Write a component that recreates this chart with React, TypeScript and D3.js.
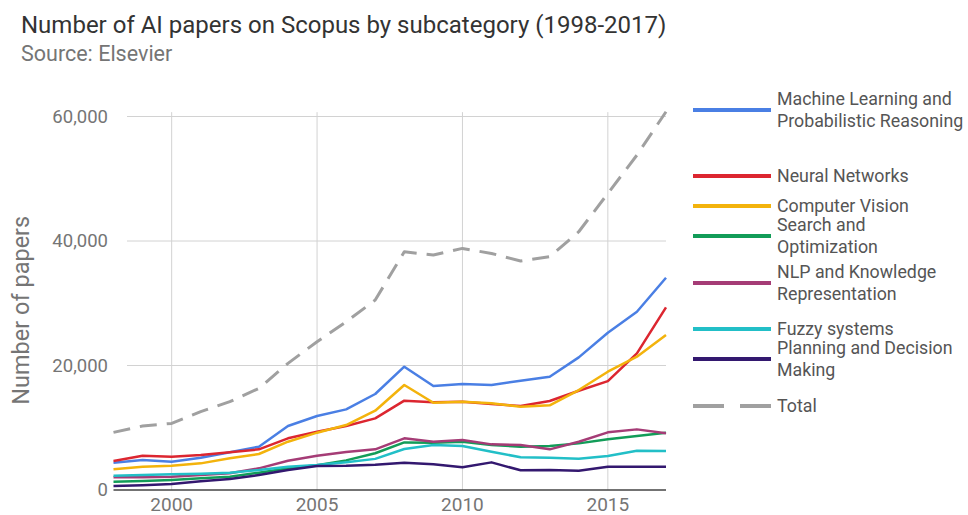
import React from "react";
import * as d3 from "d3";

// values
const years = [1998, 1999, 2000, 2001, 2002, 2003, 2004, 2005, 2006, 2007, 2008, 2009, 2010, 2011, 2012, 2013, 2014, 2015, 2016, 2017];

const machineLearning = [4390, 4820, 4550, 5190, 6050, 6960, 10280, 11880, 12950, 15420, 19810, 16700, 17020, 16860, 17560, 18200, 21300, 25270, 28640, 34100];
const neuralNetworks = [4660, 5510, 5350, 5620, 6050, 6530, 8300, 9370, 10280, 11510, 14350, 14080, 14190, 13810, 13490, 14290, 15950, 17500, 21950, 29330];
const computerVision = [3320, 3750, 3910, 4280, 5090, 5780, 7760, 9210, 10440, 12740, 16860, 14020, 14190, 13920, 13380, 13600, 16060, 19000, 21410, 24890];
const searchOptimization = [1340, 1450, 1610, 1870, 2140, 2780, 3480, 3960, 4760, 5900, 7650, 7600, 7760, 7230, 6960, 7070, 7490, 8140, 8670, 9210];
const nlpKnowledge = [2030, 2030, 2140, 2410, 2680, 3480, 4710, 5510, 6100, 6530, 8300, 7760, 8030, 7330, 7230, 6530, 7760, 9260, 9740, 9100];
const fuzzySystems = [2300, 2410, 2520, 2620, 2780, 3210, 3750, 4010, 4450, 5000, 6580, 7230, 7070, 6160, 5250, 5190, 5030, 5460, 6320, 6260];
const planningDecision = [640, 750, 960, 1390, 1770, 2410, 3210, 3850, 3900, 4070, 4390, 4120, 3640, 4440, 3160, 3210, 3100, 3750, 3750, 3750];
const total = [9260, 10280, 10700, 12580, 14190, 16330, 20340, 23820, 27030, 30510, 38270, 37740, 38810, 38000, 36780, 37470, 41490, 47640, 53800, 60760];

const seriesNames = [
  ["Machine Learning and", "Probabilistic Reasoning"],
  ["Neural Networks"],
  ["Computer Vision"],
  ["Search and", "Optimization"],
  ["NLP and Knowledge", "Representation"],
  ["Fuzzy systems"],
  ["Planning and Decision", "Making"],
  ["Total"],
];
const seriesColors = ["#4a7fe4", "#dc2630", "#f3b30c", "#129c58", "#a53c76", "#22bfc7", "#33186f", "#a0a0a0"];
const seriesValues = [machineLearning, neuralNetworks, computerVision, searchOptimization, nlpKnowledge, fuzzySystems, planningDecision, total];

const yTicks = [0, 20000, 40000, 60000];
const xTicks = [2000, 2005, 2010, 2015];

const title = "Number of AI papers on Scopus by subcategory (1998-2017)";
const subtitle = "Source: Elsevier";
const yTitle = "Number of papers";

// legend row positions (swatch centre), layout only
const legendRowY = [110, 176, 206, 236, 283, 329, 359, 406];

const font = "Roboto, 'Noto Sans', sans-serif";

export default function App() {
  const width = 968;
  const height = 515;

  const x = d3.scaleLinear().domain([1998, 2017]).range([113.5, 666]);
  const y = d3.scaleLinear().domain([0, 60000]).range([490, 116.5]);
  const fmt = d3.format(",");

  const lineGen = d3
    .line<number>()
    .x((d, i) => x(years[i]))
    .y((d) => y(d));

  const isTotal = (i: number) => i === seriesValues.length - 1;

  return (
    <svg
      width={width}
      height={height}
      style={{ position: "absolute", left: 0, top: 0, background: "white", fontFamily: font }}
    >
      <text x={21} y={33} fontSize={24} fill="#333">
        {title}
      </text>
      <text x={21} y={61} fontSize={21.5} fill="#757575">
        {subtitle}
      </text>

      {/* grid */}
      <g>
        {xTicks.map((t) => (
          <line key={t} x1={x(t)} x2={x(t)} y1={y(60700)} y2={y(0)} stroke="#d2d2d2" strokeWidth={1} />
        ))}
        {yTicks
          .filter((t) => t > 0)
          .map((t) => (
            <line key={t} x1={127} x2={x(2017)} y1={y(t)} y2={y(t)} stroke="#d2d2d2" strokeWidth={1} />
          ))}
      </g>

      {/* y tick labels */}
      <g>
        {yTicks.map((t) => (
          <text key={t} x={108} y={y(t) + 6} textAnchor="end" fontSize={18.5} fill="#757575">
            {fmt(t)}
          </text>
        ))}
      </g>

      {/* x tick labels */}
      <g>
        {xTicks.map((t) => (
          <text key={t} x={x(t)} y={511} textAnchor="middle" fontSize={19} fill="#757575">
            {t}
          </text>
        ))}
      </g>

      <text
        transform={`translate(29, ${(y(0) + y(60000)) / 2 + 7}) rotate(-90)`}
        textAnchor="middle"
        fontSize={23.5}
        fill="#757575"
      >
        {yTitle}
      </text>

      {/* series */}
      <g fill="none">
        {seriesValues.map((vals, i) => (
          <path
            key={i}
            d={lineGen(vals) || ""}
            stroke={seriesColors[i]}
            strokeWidth={isTotal(i) ? 3 : 2.5}
            strokeDasharray={isTotal(i) ? "17,10" : undefined}
            strokeLinejoin="round"
          />
        ))}
      </g>

      {/* baseline */}
      <line x1={x(1998)} x2={x(2017)} y1={y(0)} y2={y(0)} stroke="#444" strokeWidth={1.5} />

      {/* legend */}
      <g>
        {seriesNames.map((lines, i) => {
          const cy = legendRowY[i];
          const top = cy - ((lines.length - 1) * 21.5) / 2;
          return (
            <g key={i}>
              <line
                x1={693}
                x2={771}
                y1={cy}
                y2={cy}
                stroke={seriesColors[i]}
                strokeWidth={4}
                strokeDasharray={isTotal(i) ? "31,16" : undefined}
              />
              {lines.map((s, j) => (
                <text key={j} x={777} y={top + j * 21.5 + 6} fontSize={17.8} fill="#555">
                  {s}
                </text>
              ))}
            </g>
          );
        })}
      </g>
    </svg>
  );
}
